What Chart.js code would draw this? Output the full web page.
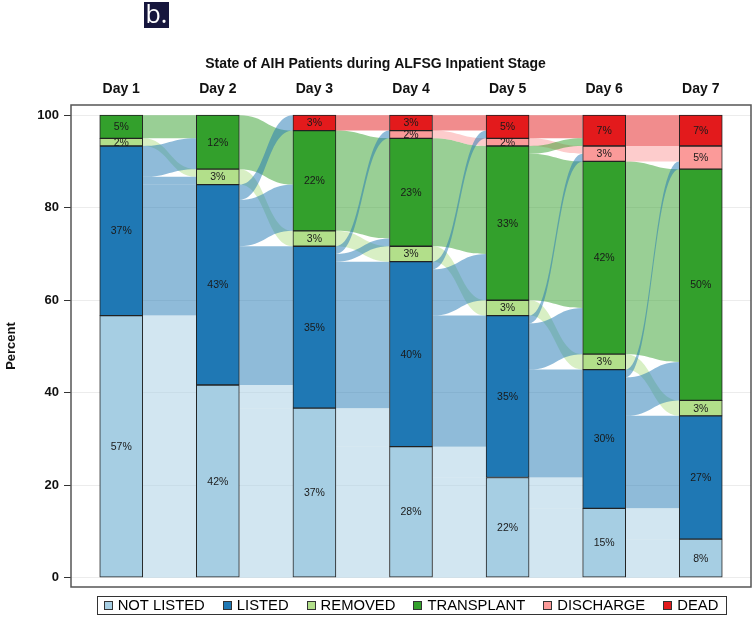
<!DOCTYPE html>
<html>
<head>
<meta charset="utf-8">
<script src="https://cdn.jsdelivr.net/npm/chart.js@4.4.1/dist/chart.umd.min.js"></script>
<style>
  body { margin: 0; background: #fff; }
  #wrap { position: relative; width: 755px; height: 617px; }
  #badge { position: absolute; left: 144px; top: 2px; width: 25px; height: 26px;
    background: #16163d; color: #fff; font: 400 25px "Open Sans", Lato, sans-serif;
    line-height: 22px; text-align: center; }
</style>
</head>
<body>
<div id="wrap">
  <canvas id="myChart" width="755" height="617"></canvas>
  <div id="badge">b.</div>
</div>
<script>
const days = ["Day 1", "Day 2", "Day 3", "Day 4", "Day 5", "Day 6", "Day 7"];
const states = ["NOT LISTED", "LISTED", "REMOVED", "TRANSPLANT", "DISCHARGE", "DEAD"];
const colors = ["#a6cee3", "#1f78b4", "#b2df8a", "#33a02c", "#fb9a99", "#e31a1c"];
const flowColors = ["rgba(166,206,227,0.5)", "rgba(31,120,180,0.5)", "rgba(178,223,138,0.5)",
                    "rgba(51,160,44,0.5)", "rgba(251,154,153,0.5)", "rgba(227,26,28,0.5)"];
const yTicks = [0, 20, 40, 60, 80, 100];
const patients = 60;

// patients in each state per day
const notListed  = [34, 25, 22, 17, 13, 9, 5];
const listed     = [22, 26, 21, 24, 21, 18, 16];
const removed    = [1, 2, 2, 2, 2, 2, 2];
const transplant = [3, 7, 13, 14, 20, 25, 30];
const discharge  = [0, 0, 0, 1, 1, 2, 3];
const dead       = [0, 0, 2, 2, 3, 4, 4];
const counts = [notListed, listed, removed, transplant, discharge, dead];

// moves from one day to the next: [from state, to state, patients]
const moves12 = [[0,0,25],[0,1,9],[1,1,17],[1,2,1],[1,3,4],[2,2,1],[3,3,3]];
const moves23 = [[0,0,22],[0,1,3],[1,1,18],[1,3,6],[1,5,2],[2,2,2],[3,3,7]];
const moves34 = [[0,0,17],[0,1,5],[1,1,19],[1,3,1],[1,4,1],[2,2,2],[3,3,13],[5,5,2]];
const moves45 = [[0,0,13],[0,1,4],[1,1,17],[1,3,6],[1,5,1],[2,2,2],[3,3,14],[4,4,1],[5,5,2]];
const moves56 = [[0,0,9],[0,1,4],[1,1,14],[1,3,6],[1,4,1],[2,2,2],[3,3,19],[3,5,1],[4,4,1],[5,5,3]];
const moves67 = [[0,0,5],[0,1,4],[1,1,12],[1,3,5],[1,4,1],[2,2,2],[3,3,25],[4,4,2],[5,5,4]];
const moves = [moves12, moves23, moves34, moves45, moves56, moves67];

const pct = c => c / patients * 100;
const FONT = 'Arial, "Liberation Sans", Helvetica, sans-serif';
Chart.defaults.font.family = FONT;

function bases(day) {
  let acc = 0;
  return counts.map(arr => { const b = acc; acc += arr[day]; return b; });
}

const flowPlugin = {
  id: 'flows',
  beforeDatasetsDraw(chart) {
    const { ctx, chartArea, scales: { x, y } } = chart;
    const half = chart.getDatasetMeta(0).data[0].width / 2;
    ctx.save();
    ctx.beginPath();
    ctx.rect(chartArea.left, chartArea.top, chartArea.width, chartArea.height);
    ctx.clip();
    moves.forEach((list, k) => {
      const x0 = x.getPixelForValue(k + 1) + half;
      const x1 = x.getPixelForValue(k + 2) - half;
      const xm = (x0 + x1) / 2;
      const src = bases(k), dst = bases(k + 1);
      const pos = list.map(() => ({}));
      list.map((m, i) => i).sort((a, b) => list[a][0] - list[b][0] || list[a][1] - list[b][1])
        .forEach(i => { const m = list[i]; pos[i].s = src[m[0]]; src[m[0]] += m[2]; });
      list.map((m, i) => i).sort((a, b) => list[a][1] - list[b][1] || list[a][0] - list[b][0])
        .forEach(i => { const m = list[i]; pos[i].d = dst[m[1]]; dst[m[1]] += m[2]; });
      const order = list.map((m, i) => i).sort((a, b) => (list[a][0] !== list[a][1]) - (list[b][0] !== list[b][1]));
      order.forEach(i => {
        const m = list[i];
        const a1 = y.getPixelForValue(pct(pos[i].s)), a0 = y.getPixelForValue(pct(pos[i].s + m[2]));
        const b1 = y.getPixelForValue(pct(pos[i].d)), b0 = y.getPixelForValue(pct(pos[i].d + m[2]));
        ctx.beginPath();
        ctx.moveTo(x0, a0);
        ctx.bezierCurveTo(xm, a0, xm, b0, x1, b0);
        ctx.lineTo(x1, b1);
        ctx.bezierCurveTo(xm, b1, xm, a1, x0, a1);
        ctx.closePath();
        ctx.fillStyle = flowColors[m[0]];
        ctx.fill();
      });
    });
    ctx.restore();
  }
};

const labelPlugin = {
  id: 'barLabels',
  afterDatasetsDraw(chart) {
    const { ctx } = chart;
    ctx.save();
    ctx.font = '10.5px ' + FONT;
    ctx.fillStyle = '#1a1a1a';
    ctx.textAlign = 'center';
    ctx.textBaseline = 'middle';
    chart.data.datasets.forEach((ds, i) => {
      chart.getDatasetMeta(i).data.forEach((el, j) => {
        const v = ds.data[j].y;
        if (!v) return;
        ctx.fillText(Math.round(v) + '%', el.x, (el.y + el.base) / 2 + 0.5);
      });
    });
    ctx.restore();
  }
};

const framePlugin = {
  id: 'frame',
  afterDraw(chart) {
    const { ctx, chartArea } = chart;
    ctx.save();
    ctx.strokeStyle = '#555';
    ctx.lineWidth = 1.5;
    ctx.strokeRect(chartArea.left, chartArea.top, chartArea.width, chartArea.height);

    // legend with a box round it
    ctx.font = '14.8px ' + FONT;
    const sq = 8, gapText = 6, gapItem = 18, pad = 7;
    const widths = states.map(s => ctx.measureText(s).width);
    const total = widths.reduce((a, b) => a + b, 0) + states.length * (sq + gapText) + (states.length - 1) * gapItem;
    const left = (chartArea.left + chartArea.right) / 2 - total / 2;
    const top = chartArea.bottom + 9, h = 18, cy = top + h / 2;
    ctx.lineWidth = 1;
    ctx.strokeStyle = '#333';
    ctx.strokeRect(Math.round(left - pad) + 0.5, top + 0.5, Math.round(total + 2 * pad), h);
    let xx = left;
    ctx.textBaseline = 'middle';
    ctx.textAlign = 'left';
    states.forEach((s, i) => {
      const bx = Math.round(xx) + 0.5, by = Math.round(cy - sq / 2) + 0.5;
      ctx.fillStyle = colors[i];
      ctx.fillRect(bx, by, sq, sq);
      ctx.strokeRect(bx, by, sq, sq);
      ctx.fillStyle = '#000';
      ctx.fillText(s, xx + sq + gapText, cy + 1);
      xx += sq + gapText + widths[i] + gapItem;
    });
    ctx.restore();
  }
};

new Chart(document.getElementById('myChart'), {
  type: 'bar',
  data: {
    datasets: counts.map((arr, k) => ({
      label: states[k],
      data: arr.map((c, i) => ({ x: i + 1, y: c ? pct(c) : null })),
      backgroundColor: colors[k],
      borderColor: '#222',
      borderWidth: 1,
      borderSkipped: false,
      barThickness: 43
    }))
  },
  options: {
    responsive: false,
    animation: false,
    layout: { padding: { left: 0, right: 4, top: 0, bottom: 30 } },
    scales: {
      x: {
        type: 'linear',
        position: 'top',
        stacked: true,
        offset: false,
        min: 0.48,
        max: 7.52,
        afterBuildTicks: s => { s.ticks = days.map((d, i) => ({ value: i + 1 })); },
        afterFit: s => { s.height = 28.2; },
        grid: { display: false, drawTicks: false, offset: false },
        border: { display: false },
        ticks: {
          padding: 7,
          color: '#111',
          font: { size: 14, weight: 'bold' },
          maxRotation: 0,
          autoSkip: false,
          callback: v => days[Math.round(v) - 1]
        }
      },
      y: {
        stacked: true,
        min: -2,
        max: 102.2,
        afterBuildTicks: s => { s.ticks = yTicks.map(v => ({ value: v })); },
        afterFit: s => { s.width = 71; },
        grid: { color: '#ececec', tickColor: '#333', tickLength: 7 },
        border: { display: false },
        ticks: { padding: 5, color: '#111', font: { size: 13, weight: 'bold' } },
        title: {
          display: true,
          text: 'Percent',
          color: '#111',
          font: { size: 13, weight: 'bold' },
          padding: { top: 4, bottom: 0 }
        }
      }
    },
    plugins: {
      legend: { display: false },
      tooltip: { enabled: false },
      title: {
        display: true,
        text: 'State of AIH Patients during ALFSG Inpatient Stage',
        color: '#111',
        font: { size: 14, weight: 'bold' },
        padding: { top: 56, bottom: 4 }
      }
    }
  },
  plugins: [flowPlugin, labelPlugin, framePlugin]
});
</script>
</body>
</html>
